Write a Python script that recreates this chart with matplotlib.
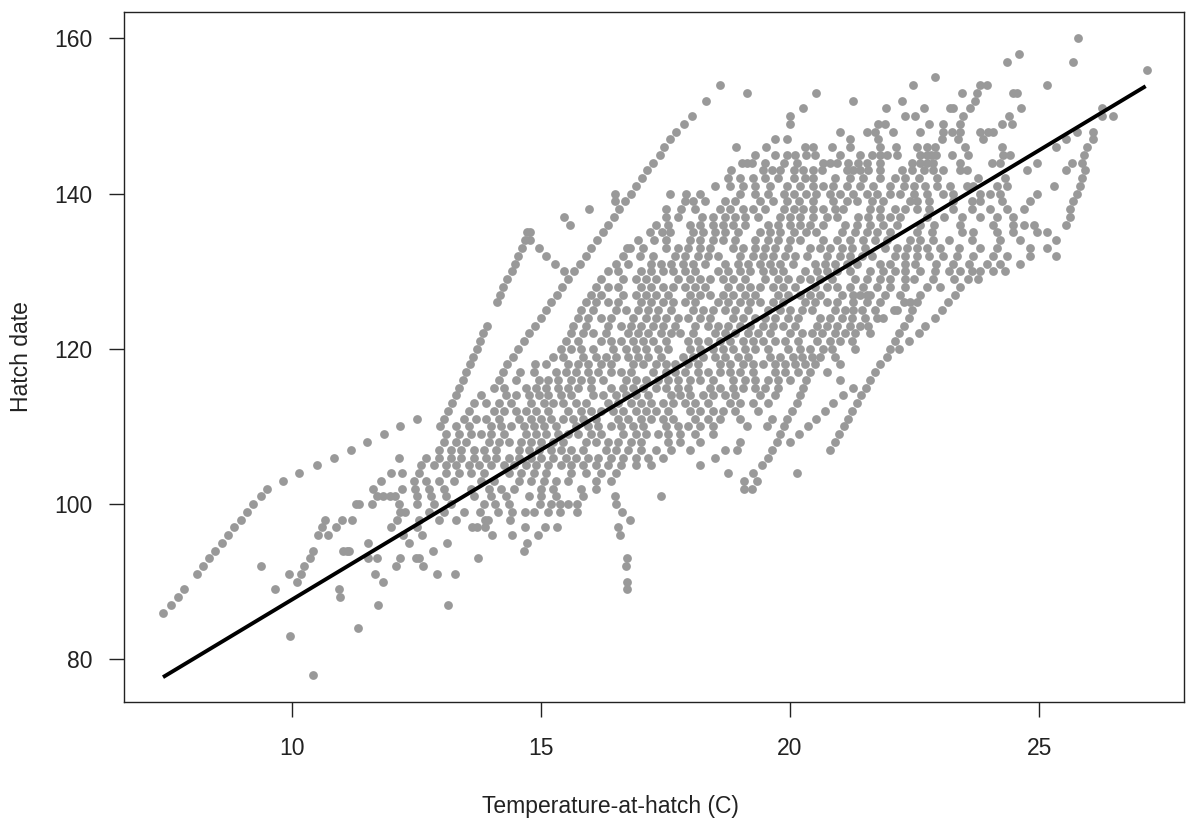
import matplotlib
matplotlib.use("Agg")
import matplotlib.pyplot as plt

plt.rcParams['font.family'] = ['Liberation Sans', 'DejaVu Sans']

# Hatch date (day of year) rows and the temperatures (C) of the points in each row
days_low = [78, 83, 84, 86, 87, 88, 89, 90, 91, 92, 93, 94, 95, 96, 97, 98, 99]
temps_low = [
    [10.43],
    [9.97],
    [11.32],
    [7.42],
    [7.57, 11.72, 13.14],
    [7.72, 10.97],
    [7.84, 9.65, 10.95, 16.72],
    [10.11, 11.82, 16.72],
    [8.09, 9.93, 10.19, 11.66, 12.92, 13.27],
    [8.21, 9.38, 10.25, 12.09, 12.64, 16.70],
    [8.34, 10.36, 11.52, 11.71, 12.17, 12.49, 12.56, 13.73, 16.72],
    [8.46, 10.42, 11.03, 11.10, 11.14, 12.84, 14.66],
    [8.59, 11.52, 12.35, 13.11, 14.71],
    [8.72, 10.53, 10.73, 12.23, 12.62, 14.01, 14.42, 14.93, 16.58],
    [8.84, 10.60, 10.88, 11.98, 12.50, 13.61, 13.71, 13.87, 14.68, 15.07, 15.33, 16.55],
    [8.97, 10.66, 11.00, 11.21, 12.10, 12.55, 12.95, 13.30, 13.87, 13.94, 14.38, 16.79],
    [9.10, 12.17, 12.27, 12.75, 13.05, 13.45, 13.77, 14.14, 14.41, 14.68, 14.85, 15.15, 15.38, 15.72, 16.63],
]

days_mid = [100, 101, 102, 103, 104, 105, 106, 107, 108, 109,
            110, 111, 112, 113, 114, 115, 116, 117, 118, 119]
temps_mid = [
    [9.22, 11.29, 11.35, 11.61, 12.14, 12.5, 12.85, 13.2, 13.85, 14.08, 14.35, 14.98, 15.2, 15.38, 15.55, 15.72, 16.51],
    [9.37, 11.70, 11.83, 11.97, 12.07, 12.50, 12.8, 13.1, 13.65, 14.0, 14.3, 14.75, 15.0, 15.3, 15.85, 16.49, 17.41],
    [9.50, 11.63, 12.2, 12.47, 12.75, 13.05, 13.6, 13.95, 14.2, 14.45, 15.0, 15.25, 15.8, 16.1, 19.08, 19.23],
    [9.81, 11.79, 12.44, 12.7, 12.95, 13.25, 13.8, 14.05, 14.55, 14.8, 15.05, 15.3, 15.55, 16.1, 16.4, 19.08, 19.33],
    [10.15, 11.98, 12.2, 12.55, 13.1, 13.35, 13.6, 13.85, 14.35, 14.6, 14.85, 15.1, 15.6, 15.9, 16.2, 16.5, 18.76, 19.26, 20.13],
    [10.50, 12.6, 12.85, 13.1, 13.3, 13.55, 13.75, 14.0, 14.25, 14.45, 14.7, 14.9, 15.15, 15.4, 15.6, 15.85, 16.1, 16.35, 16.6, 16.9, 17.2, 18.19, 19.43],
    [10.85, 12.15, 12.7, 12.95, 13.2, 13.4, 13.65, 13.9, 14.1, 14.35, 14.55, 14.8, 15.0, 15.25, 15.5, 15.7, 15.95, 16.15, 16.4, 16.65, 16.9, 17.15, 17.45, 18.49, 19.56],
    [11.18, 12.95, 13.2, 13.4, 13.65, 13.85, 14.1, 14.55, 14.75, 14.95, 15.2, 15.4, 15.6, 15.85, 16.3, 16.5, 16.75, 17.0, 17.3, 17.6, 18.0, 18.69, 18.93, 19.63, 20.80],
    [11.51, 13.05, 13.3, 13.5, 13.95, 14.15, 14.35, 14.6, 14.8, 15.0, 15.25, 15.45, 15.9, 16.1, 16.35, 16.55, 16.8, 17.0, 17.55, 17.8, 18.2, 18.99, 19.73, 19.99, 20.90],
    [11.85, 13.1, 13.35, 13.6, 13.8, 14.0, 14.25, 14.7, 14.9, 15.1, 15.35, 15.55, 15.75, 16.0, 16.2, 16.65, 16.9, 17.1, 17.35, 17.55, 17.8, 18.1, 18.45, 19.80, 20.17, 20.99],
    [12.17, 12.97, 13.3, 13.55, 14.0, 14.2, 14.4, 14.65, 14.85, 15.05, 15.3, 15.7, 15.95, 16.15, 16.4, 16.6, 16.85, 17.05, 17.5, 17.75, 17.95, 18.2, 18.45, 19.13, 19.53, 19.87, 20.37, 21.08],
    [12.50, 13.06, 13.45, 13.7, 13.9, 14.15, 14.55, 14.8, 15.0, 15.2, 15.45, 15.65, 15.85, 16.1, 16.55, 16.75, 17.0, 17.2, 17.45, 17.65, 18.1, 18.35, 18.6, 19.0, 19.63, 19.93, 20.53, 21.17],
    [13.13, 13.55, 14.05, 14.25, 14.5, 14.7, 14.9, 15.15, 15.55, 15.8, 16.0, 16.2, 16.45, 16.65, 16.9, 17.1, 17.3, 17.55, 18.0, 18.2, 18.45, 18.65, 18.9, 19.35, 20.03, 20.70, 21.24],
    [13.21, 13.65, 13.9, 14.15, 14.4, 14.8, 15.05, 15.25, 15.45, 15.7, 15.9, 16.35, 16.55, 16.8, 17.0, 17.2, 17.45, 17.65, 17.9, 18.1, 18.35, 18.8, 19.0, 19.25, 19.55, 20.13, 20.87, 21.34],
    [13.29, 13.8, 14.3, 14.5, 14.75, 14.95, 15.15, 15.4, 15.6, 16.05, 16.25, 16.5, 16.7, 16.9, 17.15, 17.6, 17.8, 18.0, 18.25, 18.45, 18.7, 18.9, 19.4, 19.7, 20.20, 21.07, 21.42],
    [13.36, 14.06, 14.25, 14.7, 14.9, 15.1, 15.35, 15.55, 15.75, 16.0, 16.4, 16.65, 16.85, 17.05, 17.3, 17.5, 17.75, 17.95, 18.4, 18.6, 18.85, 19.05, 19.3, 19.5, 19.75, 20.27, 21.27, 21.53],
    [13.43, 14.16, 14.5, 14.95, 15.15, 15.35, 15.6, 15.8, 16.0, 16.25, 16.7, 16.9, 17.1, 17.35, 17.55, 17.75, 18.0, 18.2, 18.45, 18.85, 19.1, 19.3, 19.55, 19.75, 20.0, 20.33, 21.0, 21.61],
    [13.50, 14.24, 14.58, 14.85, 15.3, 15.5, 15.7, 15.95, 16.15, 16.4, 16.6, 16.8, 17.25, 17.5, 17.7, 17.9, 18.15, 18.35, 18.6, 18.8, 19.0, 19.25, 19.7, 19.9, 20.15, 20.40, 20.75, 21.71],
    [13.57, 14.32, 14.88, 15.1, 15.55, 15.75, 15.95, 16.2, 16.4, 16.85, 17.05, 17.3, 17.5, 17.7, 17.95, 18.15, 18.6, 18.8, 19.05, 19.25, 19.45, 19.7, 19.9, 20.1, 20.30, 20.50, 21.0, 21.81],
    [13.64, 14.43, 15.25, 15.45, 15.85, 16.1, 16.3, 16.5, 16.75, 16.95, 17.15, 17.4, 17.85, 18.05, 18.25, 18.5, 18.7, 18.95, 19.15, 19.6, 19.8, 20.05, 20.25, 20.45, 20.60, 20.9, 21.94],
]

days_core = [120, 121, 122, 123, 124, 125, 126, 127, 128, 129,
             130, 131, 132, 133, 134, 135, 136, 137, 138, 139]
temps_core = [
    [13.71, 14.54, 15.4, 15.6, 15.8, 16.05, 16.45, 16.7, 16.9, 17.1, 17.35, 17.55, 18.0, 18.2, 18.45, 18.65, 18.85, 19.1, 19.3, 19.55, 19.95, 20.2, 20.4, 20.67, 20.85, 21.3, 22.01, 22.18],
    [13.77, 14.65, 15.5, 15.75, 16.2, 16.4, 16.6, 16.85, 17.05, 17.25, 17.5, 17.95, 18.15, 18.35, 18.6, 18.8, 19.05, 19.25, 19.45, 19.7, 19.9, 20.15, 20.55, 20.8, 21.0, 21.25, 22.11, 22.38],
    [13.84, 14.76, 15.6, 15.85, 16.05, 16.3, 16.75, 16.95, 17.15, 17.4, 17.6, 17.8, 18.05, 18.5, 18.7, 18.9, 19.15, 19.35, 19.6, 20.0, 20.25, 20.45, 20.65, 20.9, 21.1, 21.31, 21.6, 22.18, 22.58],
    [13.91, 14.88, 15.65, 15.9, 16.35, 16.6, 16.8, 17.0, 17.25, 17.45, 17.7, 18.1, 18.35, 18.55, 18.75, 19.0, 19.2, 19.45, 19.65, 19.85, 20.1, 20.55, 20.75, 20.95, 21.2, 21.41, 21.57, 22.28, 22.71],
    [14.99, 15.75, 15.95, 16.2, 16.4, 16.85, 17.1, 17.3, 17.5, 17.75, 17.95, 18.2, 18.4, 18.85, 19.05, 19.3, 19.5, 19.7, 19.95, 20.15, 20.6, 20.8, 21.05, 21.24, 21.5, 21.74, 21.87, 22.38, 22.91],
    [15.10, 15.8, 16.05, 16.5, 16.7, 16.95, 17.15, 17.35, 17.6, 18.05, 18.25, 18.45, 18.7, 18.9, 19.15, 19.55, 19.8, 20.0, 20.25, 20.45, 20.9, 21.1, 21.27, 21.45, 21.71, 22.08, 22.14, 22.44, 23.05],
    [14.11, 15.21, 15.9, 16.1, 16.35, 16.55, 17.0, 17.2, 17.45, 17.65, 17.9, 18.1, 18.55, 18.75, 19.0, 19.2, 19.4, 19.65, 19.85, 20.3, 20.5, 20.75, 20.95, 21.27, 21.55, 21.8, 22.28, 22.41, 22.54, 23.18],
    [14.18, 15.33, 16.0, 16.2, 16.65, 16.9, 17.1, 17.3, 17.55, 18.0, 18.2, 18.4, 18.65, 18.85, 19.1, 19.3, 19.75, 19.95, 20.2, 20.4, 20.6, 21.05, 21.27, 21.41, 21.54, 21.61, 21.9, 22.2, 22.61, 23.31],
    [14.24, 15.43, 16.1, 16.35, 16.55, 17.0, 17.2, 17.45, 17.65, 17.9, 18.1, 18.3, 18.75, 19.0, 19.2, 19.4, 19.65, 19.85, 20.1, 20.5, 20.75, 20.95, 21.2, 21.47, 21.75, 22.0, 22.3, 22.74, 23.01, 23.41],
    [14.32, 15.55, 16.2, 16.65, 16.9, 17.1, 17.3, 17.75, 18.0, 18.2, 18.4, 18.65, 18.85, 19.1, 19.5, 19.75, 19.95, 20.2, 20.4, 20.6, 20.85, 21.3, 21.55, 21.8, 22.01, 22.3, 22.48, 22.88, 23.3, 23.58, 23.78],
    [14.41, 15.46, 15.67, 16.35, 16.55, 17.0, 17.2, 17.45, 17.65, 17.9, 18.1, 18.55, 18.75, 19.0, 19.2, 19.45, 19.65, 19.85, 20.3, 20.55, 20.75, 20.95, 21.2, 21.61, 21.87, 22.1, 22.31, 22.6, 22.91, 23.2, 23.41, 23.65, 23.81, 24.08, 24.32],
    [14.48, 15.28, 15.78, 16.5, 16.75, 17.2, 17.4, 17.6, 17.85, 18.05, 18.3, 18.7, 18.95, 19.15, 19.4, 19.6, 19.8, 20.05, 20.5, 20.7, 20.9, 21.15, 21.35, 21.8, 22.0, 22.3, 22.5, 22.94, 23.28, 23.6, 23.95, 24.22, 24.62],
    [14.54, 15.11, 15.90, 16.65, 16.99, 17.25, 17.7, 17.9, 18.15, 18.35, 18.55, 19.0, 19.25, 19.45, 19.65, 19.9, 20.1, 20.35, 20.75, 21.0, 21.2, 21.45, 21.65, 22.1, 22.3, 22.54, 22.8, 23.08, 23.35, 23.68, 24.08, 24.35, 24.82, 25.35],
    [14.61, 14.95, 16.00, 16.72, 16.79, 17.05, 17.5, 17.75, 17.95, 18.2, 18.4, 18.85, 19.05, 19.3, 19.5, 19.7, 19.95, 20.4, 20.6, 20.8, 21.05, 21.25, 21.5, 21.9, 22.15, 22.35, 22.55, 22.75, 23.01, 23.4, 23.82, 24.15, 24.82, 25.15],
    [14.68, 14.78, 16.12, 16.95, 17.26, 17.5, 17.99, 18.2, 18.45, 18.65, 18.9, 19.3, 19.55, 19.75, 20.0, 20.2, 20.67, 20.94, 21.2, 21.47, 21.7, 21.95, 22.4, 22.6, 22.88, 23.2, 23.65, 24.22, 24.62, 25.35],
    [14.71, 14.78, 16.24, 17.19, 17.42, 17.59, 18.05, 18.25, 18.5, 18.7, 18.95, 19.4, 19.6, 19.8, 20.07, 20.33, 20.53, 21.05, 21.3, 21.54, 21.74, 22.01, 22.55, 22.85, 23.45, 23.68, 24.15, 24.48, 24.95, 25.15],
    [15.58, 16.35, 17.3, 17.55, 18.0, 18.2, 18.45, 18.65, 18.85, 19.1, 19.55, 19.75, 20.0, 20.2, 20.4, 20.67, 21.1, 21.34, 21.6, 21.87, 22.14, 22.61, 22.9, 23.41, 24.08, 24.48, 24.7, 24.89, 25.55],
    [15.46, 16.47, 17.5, 17.75, 18.23, 18.45, 18.7, 18.9, 19.1, 19.35, 19.8, 20.0, 20.2, 20.47, 20.74, 20.95, 21.37, 21.57, 21.81, 22.01, 22.21, 22.74, 23.1, 23.45, 23.82, 24.15, 24.48, 25.62],
    [15.97, 16.57, 17.51, 17.82, 18.1, 18.6, 18.8, 19.05, 19.25, 19.5, 19.87, 20.07, 20.27, 20.47, 20.67, 20.9, 21.07, 21.6, 21.81, 22.11, 22.31, 22.55, 22.78, 23.28, 23.65, 24.02, 24.35, 24.69, 25.62],
    [16.49, 16.69, 17.9, 18.05, 18.3, 18.69, 18.9, 19.4, 19.65, 19.93, 20.17, 20.47, 20.87, 21.14, 21.34, 21.64, 21.87, 22.41, 22.54, 22.8, 23.28, 23.65, 23.82, 24.25, 24.82, 25.69],
]

days_top = [140, 141, 142, 143, 144, 145, 146, 147, 148, 149,
            150, 151, 152, 153, 154, 155, 156, 157, 158, 160]
temps_top = [
    [16.49, 16.80, 17.59, 17.92, 18.19, 19.0, 19.3, 19.55, 19.87, 20.07, 20.33, 20.53, 20.80, 21.0, 21.27, 21.54, 21.74, 22.01, 22.21, 22.48, 22.74, 23.08, 23.28, 23.82, 24.02, 24.22, 24.95, 25.76],
    [16.91, 18.5, 18.8, 19.05, 19.3, 19.6, 19.93, 20.20, 20.47, 20.67, 20.87, 21.14, 21.41, 21.67, 22.01, 22.28, 22.48, 22.71, 22.95, 23.21, 23.55, 23.68, 24.15, 24.35, 25.29, 25.82],
    [17.03, 18.75, 19.0, 19.25, 19.5, 19.75, 20.07, 20.30, 20.47, 20.90, 21.20, 21.47, 21.81, 22.11, 22.31, 22.58, 22.95, 23.78, 24.32, 25.86],
    [17.12, 18.82, 19.46, 19.63, 19.80, 20.07, 20.27, 20.47, 20.65, 21.14, 21.27, 21.41, 21.57, 21.81, 22.24, 22.44, 22.68, 22.88, 23.08, 23.41, 23.55, 24.75, 25.55, 25.92],
    [17.24, 19.03, 19.13, 19.23, 19.50, 19.87, 20.13, 20.67, 20.80, 20.94, 21.17, 21.37, 21.54, 21.81, 22.44, 22.61, 22.74, 22.88, 23.41, 24.05, 24.22, 24.95, 25.66, 25.86],
    [17.38, 19.30, 19.70, 19.93, 20.10, 20.33, 20.50, 21.0, 21.41, 21.64, 21.81, 21.94, 22.14, 22.61, 22.74, 22.84, 22.94, 23.25, 23.58, 24.28, 24.42, 25.90],
    [17.46, 18.92, 19.52, 20.30, 20.47, 20.84, 21.20, 21.81, 22.13, 22.54, 22.74, 22.91, 23.51, 24.25, 25.35, 25.96],
    [17.59, 19.70, 19.93, 21.20, 21.77, 23.05, 23.38, 23.88, 25.55, 26.09],
    [17.72, 21.0, 21.54, 21.71, 22.07, 22.61, 23.08, 23.25, 23.41, 23.81, 23.98, 24.08, 25.76, 26.09],
    [17.87, 20.0, 21.77, 21.91, 22.78, 23.08, 23.41, 24.25, 24.45],
    [18.04, 20.0, 22.31, 22.51, 23.48, 24.40, 26.26, 26.49],
    [20.27, 21.93, 22.69, 23.21, 23.28, 23.61, 24.63, 26.26],
    [18.31, 21.27, 22.24, 23.71],
    [19.13, 20.52, 23.45, 23.75, 24.48, 24.55],
    [18.59, 22.46, 23.82, 23.96, 25.15],
    [22.91],
    [27.16],
    [24.35, 25.69],
    [24.60],
    [25.79],
]

# Fitted regression line (end points)
fit_temp = [7.41, 27.14]
fit_day = [77.7, 153.85]

x_ticks = [10, 15, 20, 25]
y_ticks = [80, 100, 120, 140, 160]

# Flatten rows into point lists
temp_pts, day_pts = [], []
for days, temps in ((days_low, temps_low), (days_mid, temps_mid),
                    (days_core, temps_core), (days_top, temps_top)):
    for d, row in zip(days, temps):
        temp_pts.extend(row)
        day_pts.extend([d] * len(row))

W, H = 1186, 823
fig = plt.figure(figsize=(W / 100, H / 100), dpi=100)
ax = fig.add_axes([124 / W, 1 - 702 / H, (1184 - 124) / W, (702 - 12) / H])

ax.scatter(temp_pts, day_pts, s=40, c='#999999', linewidths=0, zorder=2)
ax.plot(fit_temp, fit_day, color='black', lw=2.8, solid_capstyle='butt', zorder=3)

ax.set_xlim(6.627, 27.91)
ax.set_ylim(74.5, 163.41)
ax.set_xticks(x_ticks)
ax.set_yticks(y_ticks)
ax.tick_params(axis='both', direction='out', length=10.5, width=1.0,
               labelsize=16.5, colors='#222222')
ax.tick_params(axis='x', pad=14.5)
ax.tick_params(axis='y', pad=12)
for sp in ax.spines.values():
    sp.set_linewidth(1.0)
    sp.set_color('#222222')

fig.text(610 / W, 1 - 806 / H, 'Temperature-at-hatch (C)', ha='center', va='center',
         fontsize=16.5, color='#222222')
fig.text(22 / W, 1 - 357 / H, 'Hatch date', ha='center', va='center',
         rotation=90, fontsize=16.5, color='#222222')

fig.savefig('out.png', dpi=100, facecolor='white')
